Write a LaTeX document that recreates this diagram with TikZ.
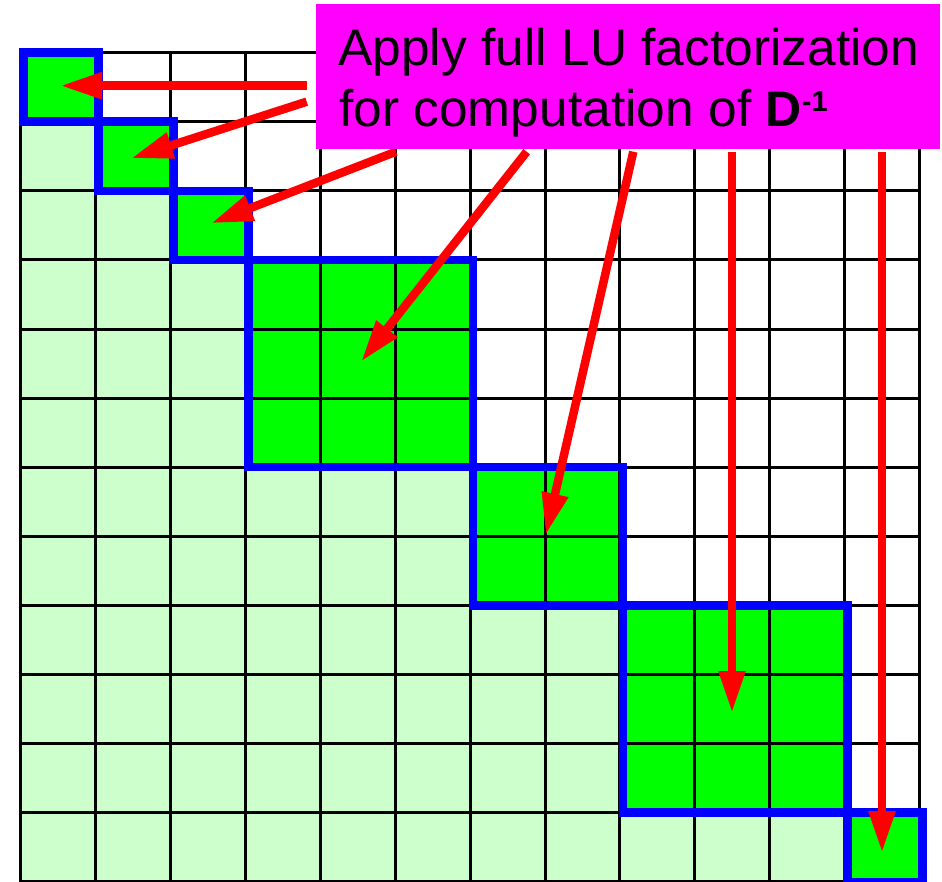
\documentclass[tikz,border=0pt]{standalone}
\usepackage{fontspec}
\setmainfont{Liberation Sans}
\usetikzlibrary{arrows.meta}
\definecolor{lightgr}{RGB}{204,255,204}
\definecolor{blockgr}{RGB}{0,255,0}
\definecolor{blockblue}{RGB}{0,0,255}
\definecolor{boxmag}{RGB}{255,0,255}
\definecolor{arrred}{RGB}{255,0,0}
\begin{document}
\begin{tikzpicture}[x=1pt,y=-1pt,
  gridline/.style={line width=3pt,draw=black,line cap=rect},
  blockfill/.style={fill=blockgr},
  lowfill/.style={fill=lightgr},
  blockedge/.style={draw=blockblue,line width=8.5pt,line join=miter},
  redarrow/.style={draw=arrred,line width=8.5pt,-{Triangle[length=42pt,width=25pt]}},
  boxstyle/.style={fill=boxmag,minimum width=624pt,minimum height=145pt,anchor=north west,inner sep=0pt},
  textline/.style={anchor=base west,inner sep=0pt,font=\fontsize{51.5}{60}\selectfont}
  ]
\useasboundingbox (0,0) rectangle (942,881);
\def\cw{74.9}\def\ch{69.1}\def\gx{20.7}\def\gy{52.6}
% fills
\foreach \s/\n in {0/1,1/1,2/1,3/3,6/2,8/3,11/1}{
  \pgfmathsetmacro\xa{\gx+\cw*\s}
  \pgfmathsetmacro\xb{\gx+\cw*(\s+\n)}
  \pgfmathsetmacro\ya{\gy+\ch*\s}
  \pgfmathsetmacro\yb{\gy+\ch*(\s+\n)}
  \fill[lowfill] (\gx,\ya) rectangle (\xa,\yb);
  \fill[blockfill] (\xa,\ya) rectangle (\xb,\yb);
}
% grid
\foreach \i in {0,...,12}{
  \pgfmathsetmacro\xx{\gx+\cw*\i}
  \pgfmathsetmacro\yy{\gy+\ch*\i}
  \pgfmathsetmacro\xe{\gx+\cw*12}
  \pgfmathsetmacro\ye{\gy+\ch*12}
  \draw[gridline] (\xx,\gy) -- (\xx,\ye);
  \draw[gridline] (\gx,\yy) -- (\xe,\yy);
}
% blue outlines
\foreach \s/\n in {0/1,1/1,2/1,3/3,6/2,8/3,11/1}{
  \pgfmathsetmacro\xa{\gx+\cw*\s+3}
  \pgfmathsetmacro\xb{\gx+\cw*(\s+\n)+3}
  \pgfmathsetmacro\ya{\gy+\ch*\s}
  \pgfmathsetmacro\yb{\gy+\ch*(\s+\n)}
  \draw[blockedge] (\xa,\ya) rectangle (\xb,\yb);
}
% arrows
\coordinate (s1) at (306.7,85.7);  \coordinate (t1) at (60,85.7);
\coordinate (s2) at (306.7,101.7); \coordinate (t2) at (131,158.3);
\coordinate (s3) at (396,151.7);   \coordinate (t3) at (211,223.3);
\coordinate (s4) at (526.7,151.7); \coordinate (t4) at (361,361.7);
\coordinate (s5) at (633.3,151.7); \coordinate (t5) at (545.7,535);
\coordinate (s6) at (732,151.7);   \coordinate (t6) at (732,713);
\coordinate (s7) at (882,151.7);   \coordinate (t7) at (882,853);
\foreach \k in {1,...,7}{
  \draw[redarrow] (s\k) -- (t\k);
}
% label box
\node[boxstyle] (box) at (316,4) {};
\node[textline] (line1) at (338,65) {Apply full LU factorization};
\node[textline] (line2) at (339,126.7) {for computation of {\fontsize{50}{54}\selectfont\bfseries D}\raisebox{15pt}{\fontsize{29}{29}\selectfont\bfseries -1}};
\end{tikzpicture}
\end{document}
